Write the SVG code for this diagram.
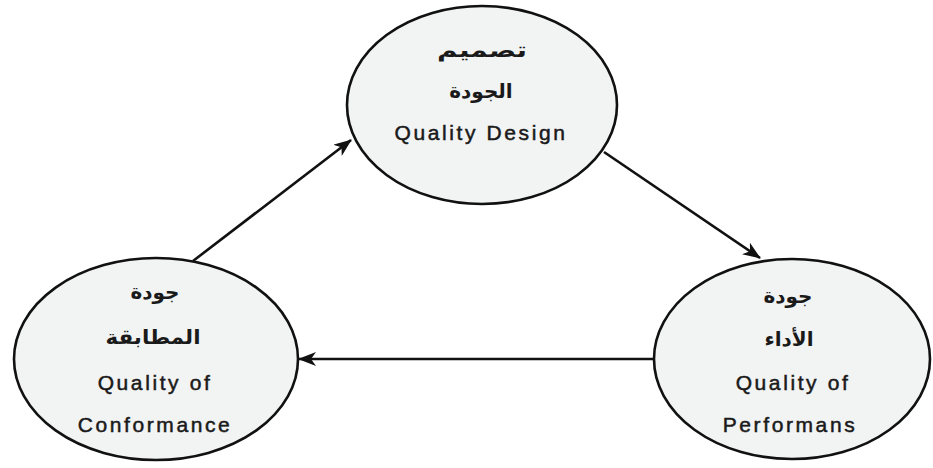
<svg xmlns="http://www.w3.org/2000/svg" width="933" height="468" viewBox="0 0 933 468">
  <style>
    .node ellipse { fill: #f2f3f3; stroke: #111; stroke-width: 2.6; }
    .ar { font-family: "DejaVu Sans", "Noto Sans", sans-serif; font-size: 20px; font-weight: bold; fill: #1a1a1a; text-anchor: middle; }
    .en { font-family: "Liberation Sans", Arial, sans-serif; font-size: 21px; fill: #1a1a1a; stroke: #1a1a1a; stroke-width: 0.5; text-anchor: middle; letter-spacing: 2.6px; }
    .edge { stroke: #111; stroke-width: 2.6; fill: none; marker-end: url(#head); }
  </style>
  <defs>
    <marker id="head" viewBox="0 0 18 14" refX="17" refY="7" markerWidth="18" markerHeight="14" markerUnits="userSpaceOnUse" orient="auto">
      <path d="M0,0 L18,7 L0,14 L5,7 Z" fill="#111"/>
    </marker>
  </defs>
  <rect width="933" height="468" fill="#ffffff"/>

  <g id="connectors">
    <line class="edge" x1="193" y1="261" x2="351" y2="140"/>
    <line class="edge" x1="604" y1="152" x2="760" y2="258"/>
    <line class="edge" x1="654" y1="359" x2="299" y2="359"/>
  </g>

  <g id="quality-design" class="node">
    <ellipse cx="482" cy="105" rx="135" ry="99"/>
    <text class="ar" x="482" y="57" textLength="90" lengthAdjust="spacingAndGlyphs">تصميم</text>
    <text class="ar" x="481" y="98">الجودة</text>
    <text class="en" x="481" y="140">Quality Design</text>
  </g>

  <g id="quality-conformance" class="node">
    <ellipse cx="156" cy="359" rx="142" ry="101"/>
    <text class="ar" x="155" y="299">جودة</text>
    <text class="ar" x="153" y="344" textLength="95" lengthAdjust="spacingAndGlyphs">المطابقة</text>
    <text class="en" x="155" y="390">Quality of</text>
    <text class="en" x="155" y="432">Conformance</text>
  </g>

  <g id="quality-performance" class="node">
    <ellipse cx="792" cy="359" rx="138" ry="100"/>
    <text class="ar" x="788" y="303">جودة</text>
    <text class="ar" x="789" y="346">الأداء</text>
    <text class="en" x="793" y="390">Quality of</text>
    <text class="en" x="790" y="432">Performans</text>
  </g>
</svg>
